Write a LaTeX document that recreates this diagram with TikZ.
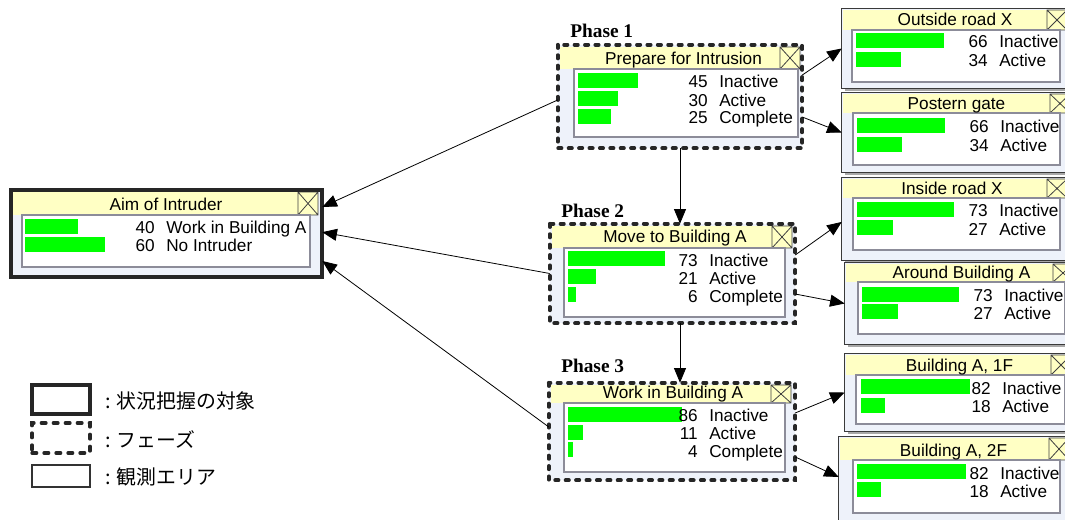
\documentclass[tikz,border=0pt]{standalone}
\usepackage{fontspec}
\setmainfont{Liberation Sans}
\newfontfamily\phasefont{Liberation Serif}
\newfontfamily\jpfont{Noto Sans CJK JP}
\usetikzlibrary{arrows.meta,fit}
\definecolor{titlec}{HTML}{FFFFC4}
\definecolor{bodyc}{HTML}{EEF2FA}
\definecolor{panelc}{HTML}{8C8C99}
\definecolor{barc}{HTML}{00FF00}
\definecolor{edgec}{HTML}{3A3A3A}
\definecolor{shadc}{HTML}{A8A8A8}
% chrome: band x1,y1, xbox left, xbox right, panel top, panel left, panel right, panel bottom
\newcommand\chrome[8]{%
  \fill[titlec] (#1,#2) rectangle (#3,#5);
  \filldraw[xboxs] (#3,#2) rectangle (#4,#5) (#3,#2) -- (#4,#5) (#3,#5) -- (#4,#2);
  \filldraw[panel] (#6,#5) rectangle (#7,#8);
}
% row: name, bar x0, y centre, percent, number right x, label
\newcommand\brow[6]{%
  \fill[barc] (#2,#3-7.5) rectangle (#2+1.33*#4,#3+7.5);
  \node[txt, anchor=base east] (#1n) at (#5,#3+7.5) {#4};
  \node[txt, anchor=base west] (#1l) at (#5+11,#3+7.5) {#6};
}
\begin{document}
\begin{tikzpicture}[x=0.75pt,y=-0.75pt,
  txt/.style={font=\fontsize{12.9}{14}\selectfont, inner sep=0, text=black},
  ttl/.style={txt, anchor=base},
  body/.style={fill=bodyc, inner sep=0, draw=none},
  shad/.style={fill=shadc},
  obsedge/.style={draw=edgec, line width=1pt},
  aimedge/.style={draw=black!85, line width=3pt},
  phaseedge/.style={draw=black!85, line width=2.8pt, dash pattern=on 2.5pt off 5.3pt, line cap=round},
  legdash/.style={draw=black!85, line width=2.5pt, dash pattern=on 3.5pt off 5.5pt, line cap=round},
  panel/.style={fill=white, draw=panelc, line width=1pt},
  xboxs/.style={fill=titlec, draw=black!75, line width=0.6pt},
  conn/.style={-{Triangle[length=11pt,width=9pt]}, line width=0.6pt},
  phlab/.style={font=\phasefont\bfseries\fontsize{14.5}{16}\selectfont, anchor=base west, inner sep=0},
  jp/.style={font=\jpfont\fontsize{14.9}{17}\selectfont, anchor=base west, inner sep=0}]
\useasboundingbox (0,0) rectangle (1065,520);
\clip (0,0) rectangle (1065,520);
\fill[white] (0,0) rectangle (1065,520);

% ---------- Aim of Intruder ----------
\node[body, fit={(11,190) (322,277)}] (aim) {};
\chrome{13}{192}{298}{318}{215}{22}{310}{267}
\node[ttl] (aimt) at (166,211) {Aim of Intruder};
\brow{aima}{25}{226.5}{40}{155}{Work in Building A}
\brow{aimb}{25}{244.5}{60}{155}{No Intruder}
\draw[aimedge] (aim.north west) rectangle (aim.south east);

% ---------- Phase 1 ----------
\node[body, fit={(558,45) (802,148)}] (p1) {};
\chrome{560}{47}{780}{800}{69}{574}{798}{137}
\node[ttl] (p1t) at (683.5,65) {Prepare for Intrusion};
\brow{p1a}{578}{80.5}{45}{708}{Inactive}
\brow{p1b}{578}{99}{30}{708}{Active}
\brow{p1c}{578}{116.5}{25}{708}{Complete}
\draw[phaseedge] (p1.north west) rectangle (p1.south east);
\node[phlab] (ph1) at (570,38) {Phase 1};

% ---------- Phase 2 ----------
\node[body, fit={(550,224) (795,323)}] (p2) {};
\chrome{552}{226}{772}{792}{248}{564}{785}{317}
\node[ttl] (p2t) at (675,243) {Move to Building A};
\brow{p2a}{568}{259}{73}{698}{Inactive}
\brow{p2b}{568}{277}{21}{698}{Active}
\brow{p2c}{568}{295}{6}{698}{Complete}
\draw[phaseedge] (p2.north west) rectangle (p2.south east);
\node[phlab] (ph2) at (561,218) {Phase 2};

% ---------- Phase 3 ----------
\node[body, fit={(549,383) (795,480)}] (p3) {};
\chrome{551}{385}{771}{791}{403}{564}{785}{472}
\node[ttl] (p3t) at (673,399) {Work in Building A};
\brow{p3a}{568}{414.5}{86}{698}{Inactive}
\brow{p3b}{568}{432.5}{11}{698}{Active}
\brow{p3c}{568}{450}{4}{698}{Complete}
\draw[phaseedge] (p3.north west) rectangle (p3.south east);
\node[phlab] (ph3) at (561,373) {Phase 3};

% ---------- Outside road X ----------
\fill[shad] (845,12) rectangle (1073,91);
\node[body, fit={(842,9) (1070,88)}] (o1) {};
\chrome{843}{10}{1047}{1067}{30}{852}{1060}{82}
\node[ttl] (o1t) at (955,26) {Outside road X};
\brow{o1a}{856}{40.5}{66}{988}{Inactive}
\brow{o1b}{856}{59.5}{34}{988}{Active}
\draw[obsedge] (o1.north west) rectangle (o1.south east);

% ---------- Postern gate ----------
\fill[shad] (845,96) rectangle (1073,175);
\node[body, fit={(842,93) (1070,172)}] (o2) {};
\chrome{843}{94}{1050}{1070}{113}{853}{1060}{165}
\node[ttl] (o2t) at (956.5,110) {Postern gate};
\brow{o2a}{857}{125.5}{66}{989}{Inactive}
\brow{o2b}{857}{144.5}{34}{989}{Active}
\draw[obsedge] (o2.north west) rectangle (o2.south east);

% ---------- Inside road X ----------
\fill[shad] (845,181) rectangle (1073,263);
\node[body, fit={(842,178) (1070,260)}] (o3) {};
\chrome{843}{179}{1047}{1067}{198}{853}{1060}{250}
\node[ttl] (o3t) at (952,195) {Inside road X};
\brow{o3a}{857}{209.5}{73}{988}{Inactive}
\brow{o3b}{857}{228}{27}{988}{Active}
\draw[obsedge] (o3.north west) rectangle (o3.south east);

% ---------- Around Building A ----------
\fill[shad] (848,266) rectangle (1078,347);
\node[body, fit={(845,263) (1075,344)}] (o4) {};
\chrome{846}{264}{1053}{1073}{282}{858}{1065}{334}
\node[ttl] (o4t) at (961.5,279) {Around Building A};
\brow{o4a}{862}{294.5}{73}{993}{Inactive}
\brow{o4b}{862}{312}{27}{993}{Active}
\draw[obsedge] (o4.north west) rectangle (o4.south east);

% ---------- Building A, 1F ----------
\fill[shad] (848,357) rectangle (1078,434);
\node[body, fit={(845,354) (1075,431)}] (b1) {};
\chrome{846}{355}{1051}{1071}{375}{856}{1065}{424}
\node[ttl] (b1t) at (959.5,372) {Building A, 1F};
\brow{b1a}{861}{387}{82}{991}{Inactive}
\brow{b1b}{861}{405.5}{18}{991}{Active}
\draw[obsedge] (b1.north west) rectangle (b1.south east);

% ---------- Building A, 2F ----------
\fill[shad] (842,440) rectangle (1078,525);
\node[body, fit={(839,437) (1075,522)}] (b2) {};
\chrome{840}{438}{1049}{1069}{460}{853}{1060}{513}
\node[ttl] (b2t) at (953.5,457) {Building A, 2F};
\brow{b2a}{857}{472}{82}{989}{Inactive}
\brow{b2b}{857}{490}{18}{989}{Active}
\draw[obsedge] (b2.north west) rectangle (b2.south east);

% ---------- Connectors ----------
\draw[conn] ([yshift=-2.6pt]p1.west) -- ([yshift=19.9pt]aim.east);
\draw[conn] (p2.west) -- ([yshift=1pt]aim.east);
\draw[conn] ([yshift=3.4pt]p3.west) -- ([yshift=-20.6pt]aim.east);
\draw[conn] (p1.south) -- (p1.south |- p2.north);
\draw[conn] (p2.south -| p1.south) -- (p3.north -| p1.south);
\draw[conn] ([yshift=16.1pt]p1.east) -- (o1.west);
\draw[conn] ([yshift=-15.4pt]p1.east) -- (o2.west);
\draw[conn] ([yshift=13.9pt]p2.east) -- ([yshift=-2.2pt]o3.west);
\draw[conn] ([yshift=-15.4pt]p2.east) -- (o4.west);
\draw[conn] ([yshift=13.9pt]p3.east) -- (b1.west);
\draw[conn] ([yshift=-19.1pt]p3.east) -- ([yshift=1.9pt]b2.west);

% ---------- Legend ----------
\node[fit={(32,385) (90,414)}, inner sep=0, aimedge] (lg1) {};
\node[fit={(32,423) (90,453)}, inner sep=0, legdash] (lg2) {};
\node[fit={(32,465) (90,487)}, inner sep=0, draw=black!80, line width=0.8pt] (lg3) {};
\node[jp] (lt1) at (105,408.5) {: 状況把握の対象};
\node[jp] (lt2) at (105,447.5) {: フェーズ};
\node[jp] (lt3) at (105,484.5) {: 観測エリア};
\end{tikzpicture}
\end{document}
